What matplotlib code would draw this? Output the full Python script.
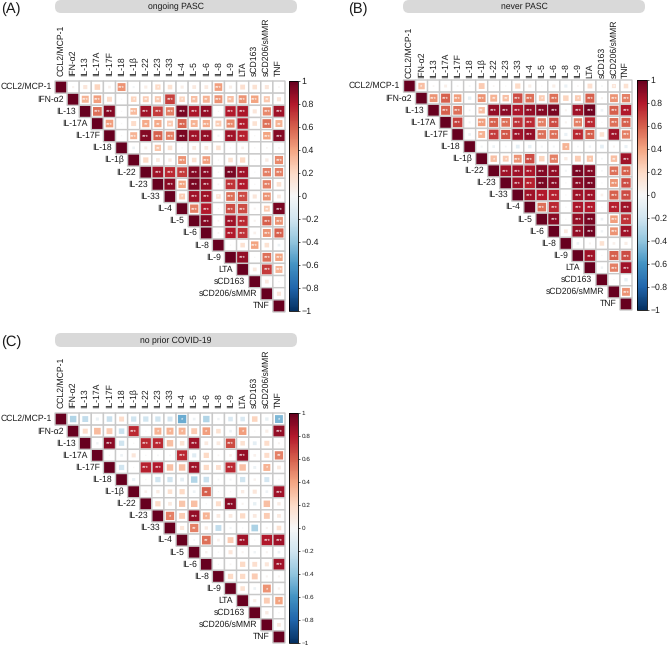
import matplotlib
matplotlib.use("Agg")
import matplotlib.pyplot as plt
from matplotlib.patches import Rectangle, FancyBboxPatch
from matplotlib.cm import ScalarMappable
from matplotlib.colors import Normalize

plt.rcParams['font.family'] = ['Liberation Sans', 'DejaVu Sans']
plt.rcParams['text.hinting'] = 'no_hinting'
plt.rcParams['text.hinting_factor'] = 8

names = ["CCL2/MCP-1", "IFN-α2", "IL-13", "IL-17A", "IL-17F", "IL-18", "IL-1β", "IL-22", "IL-23", "IL-33",
         "IL-4", "IL-5", "IL-6", "IL-8", "IL-9", "LTA", "sCD163", "sCD206/sMMR", "TNF"]
cbar_ticks = [-1, -.8, -.6, -.4, -.2, 0, .2, .4, .6, .8, 1]

A_vals = [
 [.03,.12,.22,.05,.45,-.03,.07,.2,.15,.07,.1,.1,.42,.07,.17,.15,.12,.02],
 [.35,.42,.18,.01,.22,.25,.27,.68,.22,.3,.35,.45,.3,.45,.4,.27,.12],
 [.55,.92,.01,.32,.85,.7,.5,.95,.82,.88,.01,.8,.82,.12,.48,.85],
 [.42,.01,.18,.38,.38,.25,.58,.35,.38,.25,.48,.8,.15,.55,.35],
 [.01,.35,.92,.6,.5,.95,.85,.88,-.03,.85,.78,.01,.4,.92],
 [-.05,.06,.28,.15,.01,.1,.1,.15,.01,.05,.01,.02,.02],
 [.2,.1,.08,.45,.15,.42,.01,.15,.2,.01,.08,.48],
 [.85,.75,.7,.92,.9,.01,.95,.85,.01,.5,.5],
 [.9,.4,.95,.88,.02,.72,.8,.01,.5,.15],
 [.25,.85,.85,.15,.55,.65,.12,.45,.1],
 [.5,.8,.01,.65,.65,.03,.25,.95],
 [.92,.02,.85,.75,.03,.6,.45],
 [.02,.8,.72,.05,.45,.6],
 [.01,.15,.4,.15,-.05],
 [.88,.01,.55,.4],
 [.1,.7,.35],
 [.1,.01],
 [.12],
]
A_stars = [
 [0,0,0,0,3,0,0,1,0,0,0,0,3,0,0,0,0,0],
 [3,3,0,0,1,2,2,3,1,2,2,3,2,3,3,2,0],
 [3,3,0,3,3,3,3,3,3,3,0,3,3,0,3,3],
 [3,0,0,2,2,2,3,2,3,2,3,3,0,3,2],
 [0,3,3,3,3,3,3,3,0,3,3,0,3,3],
 [0,0,2,0,0,0,0,0,0,0,0,0,0],
 [0,0,0,3,0,3,0,0,0,0,0,3],
 [3,3,3,3,3,0,3,3,0,3,3],
 [3,3,3,3,0,3,3,0,3,0],
 [1,3,3,1,3,3,0,3,0],
 [3,3,0,3,3,0,2,3],
 [3,0,3,3,0,3,3],
 [0,3,3,0,3,3],
 [0,0,3,0,0],
 [3,0,3,3],
 [0,3,3],
 [0,0],
 [0],
]

B_vals = [
 [.3,.02,.06,.02,-.02,.25,.02,.01,.2,.07,.01,.07,-.07,.02,.17,-.02,.12,.15],
 [.45,.6,.42,-.08,.45,.35,.3,.65,.55,.25,.55,.22,.25,.6,.03,.45,.5],
 [.6,.55,-.02,.3,.88,.9,.82,.88,.92,.95,.03,.85,.97,-.05,.6,.8],
 [.68,-.03,.42,.6,.55,.72,.75,.5,.65,.03,.5,.75,.01,.55,.6],
 [-.05,.35,.7,.62,.85,.88,.55,.55,-.07,.75,.6,.15,.85,.5],
 [-.03,-.05,-.02,-.1,-.08,-.03,-.03,.35,-.02,-.04,-.1,.03,-.07],
 [.3,.25,.45,.65,.22,.5,.08,.25,.28,-.02,.3,.85],
 [.85,.85,.82,.92,.88,-.03,.95,.92,-.02,.55,.6],
 [.85,.78,.95,.9,.01,.9,.95,-.01,.45,.65],
 [.85,.8,.78,.01,.85,.85,.05,.6,.65],
 [.55,.75,.01,.82,.8,-.01,.78,.85],
 [.9,.01,.88,.95,-.05,.42,.72],
 [.1,.88,.97,-.04,.45,.85],
 [-.05,.03,.15,.05,.07],
 [.85,.01,.6,.65],
 [-.04,.5,.85],
 [.01,-.08],
 [.45],
]
B_stars = [
 [1,0,0,0,0,0,0,0,0,0,0,0,0,0,0,0,1,0],
 [3,3,3,0,3,2,2,3,3,1,3,0,1,3,0,3,3],
 [3,3,0,2,3,3,3,3,3,3,0,3,3,0,3,3],
 [3,0,3,3,3,3,3,3,3,0,3,3,0,3,3],
 [0,2,3,3,3,3,3,3,0,3,3,0,3,3],
 [0,0,0,0,0,0,0,1,0,0,0,0,0],
 [1,1,3,3,0,3,0,0,1,0,2,3],
 [3,3,3,3,3,0,3,3,0,3,3],
 [3,3,3,3,0,3,3,0,3,3],
 [3,3,3,0,3,3,0,3,3],
 [3,3,0,3,3,0,3,3],
 [3,0,3,3,0,3,3],
 [0,3,3,0,3,3],
 [0,0,0,0,0],
 [3,0,3,3],
 [0,3,3],
 [0,0],
 [3],
]

C_vals = [
 [-.3,-.25,-.07,-.22,.18,-.2,-.2,-.2,-.18,-.5,-.05,-.3,-.04,-.15,-.15,.22,-.08,-.45],
 [.18,.32,.25,-.22,.75,.01,.35,.35,.35,.25,.42,.15,-.05,.42,.01,.07,.88],
 [-.04,.9,-.2,.01,.75,.75,.3,.15,.85,.1,.1,.65,.15,-.1,.18,.03],
 [.01,-.05,.12,-.01,-.02,-.02,.75,-.12,.2,.02,.05,.88,.05,.18,.5],
 [-.2,.01,.78,.8,.3,.3,.85,.2,.17,.75,.3,-.06,.35,.1],
 [-.07,-.01,-.2,-.2,-.1,-.3,-.22,-.02,-.03,-.2,.04,-.18,-.01],
 [.05,.08,.15,.2,-.05,.6,.01,.01,.08,.12,-.05,.85],
 [.2,.1,.28,.3,.01,.18,.9,.03,-.08,.3,.08],
 [.5,.25,.88,.35,.1,.1,.2,.1,.25,.1],
 [.12,.5,.08,-.25,-.03,-.01,-.32,.03,.15],
 [-.02,.55,.05,.25,.85,.01,.8,.85],
 [.04,.01,.12,.03,-.04,.03,-.05],
 [-.01,.02,.2,.17,.12,.85],
 [.2,.2,.25,.03,.03],
 [.15,-.05,.45,.04],
 [.07,.25,.4],
 [.08,.01],
 [.1],
]
C_stars = [
 [0,0,0,0,0,0,0,0,0,1,0,0,0,0,0,0,0,1],
 [0,0,0,0,3,0,1,1,1,0,1,0,0,1,0,0,3],
 [0,3,0,0,3,3,0,0,3,0,0,3,0,0,0,0],
 [0,0,0,0,0,0,3,0,0,0,0,3,0,0,2],
 [0,0,3,3,0,0,3,0,0,3,0,0,1,0],
 [0,0,0,0,0,0,0,0,0,0,0,0,0],
 [0,0,0,0,0,2,0,0,0,0,0,3],
 [0,0,0,0,0,0,3,0,0,0,0],
 [1,0,3,1,0,0,0,0,0,0],
 [0,2,0,0,0,0,0,0,0],
 [0,2,0,0,3,0,3,3],
 [0,0,0,0,0,0,0],
 [0,0,0,0,0,3],
 [0,0,0,0,0],
 [0,0,1,0],
 [0,0,1],
 [0,0],
 [0],
]

W, H = 667, 645
fig = plt.figure(figsize=(W / 100, H / 100), dpi=100)
cmap = plt.get_cmap("RdBu_r")
norm = Normalize(-1, 1)
GRID = "#c9c9c9"
TXT = "#1a1a1a"
LW = 1.0
FS = 6.2


def px_axes(x0, y0, x1, y1):
    return fig.add_axes([x0 / W, 1 - y1 / H, (x1 - x0) / W, (y1 - y0) / H])


def panel(vals, stars, box, cbox, title, pill, letter, letter_xy, cb_size, xgap):
    ax = px_axes(*box)
    n = len(names)
    ax.set_xlim(0, n)
    ax.set_ylim(n, 0)
    ax.axis("off")
    for i in range(n):
        ax.add_patch(Rectangle((i, i), 1, 1, fc=cmap(norm(1)), ec=GRID, lw=LW, snap=False, clip_on=False))
        ax.text(i - 0.3, i + 0.5, names[i], ha="right", va="center", fontsize=FS,
                color=TXT, clip_on=False)
        ax.text(i + 0.5, -xgap, names[i], ha="center", va="bottom", rotation=90,
                fontsize=FS, color=TXT, clip_on=False)
        for k, (v, s) in enumerate(zip(vals[i] if i < n - 1 else [], stars[i] if i < n - 1 else [])):
            j = i + 1 + k
            ax.add_patch(Rectangle((j, i), 1, 1, fc="white", ec=GRID, lw=LW, snap=False, clip_on=False))
            side = abs(v) ** 0.5 * 0.97
            ax.add_patch(Rectangle((j + .5 - side / 2, i + .5 - side / 2), side, side,
                                   fc=cmap(norm(v)), ec="none", snap=False))
            if s:
                ax.text(j + .5, i + .62, "*" * s, ha="center", va="center", color="white",
                        fontsize=4.2)
    cax = px_axes(*cbox)
    cb = fig.colorbar(ScalarMappable(norm=norm, cmap=cmap), cax=cax, ticks=cbar_ticks)
    cb.outline.set_linewidth(0.6)
    cb.ax.tick_params(labelsize=cb_size, length=1.2, width=0.5, pad=1.5, colors=TXT)
    cb.ax.set_yticklabels(["−1", "−0.8", "−0.6", "−0.4", "−0.2", "0", "0.2", "0.4", "0.6", "0.8", "1"])
    bg = fig.add_axes([0, 0, 1, 1], zorder=-1)
    bg.set_xlim(0, W)
    bg.set_ylim(H, 0)
    bg.axis("off")
    x0, y0, x1, y1 = pill
    bg.add_patch(FancyBboxPatch((x0 + 6, y0 + 6), x1 - x0 - 12, y1 - y0 - 12,
                                boxstyle="round,pad=6,rounding_size=6",
                                fc="#d9d9d9", ec="none", clip_on=False))
    bg.text((x0 + x1) / 2, (y0 + y1) / 2 + .5, title, ha="center", va="center", fontsize=FS, color=TXT)
    bg.text(letter_xy[0], letter_xy[1], letter, ha="left", va="center", fontsize=10.5, color=TXT)


panel(A_vals, A_stars, (55, 81, 285, 312), (289, 81, 298, 311), "ongoing PASC",
      (55, 0, 297, 13), "(A)", (1, 9), 6.4, .4)
panel(B_vals, B_stars, (403.5, 80, 632, 310), (637, 80, 646.5, 310), "never PASC",
      (403, 0, 645, 13), "(B)", (348, 9), 6.2, .2)
panel(C_vals, C_stars, (55, 413, 285, 643), (289, 413, 298, 643), "no prior COVID-19",
      (55, 333, 297, 347), "(C)", (1, 342), 4.6, .4)

fig.savefig("out.png", dpi=100)
